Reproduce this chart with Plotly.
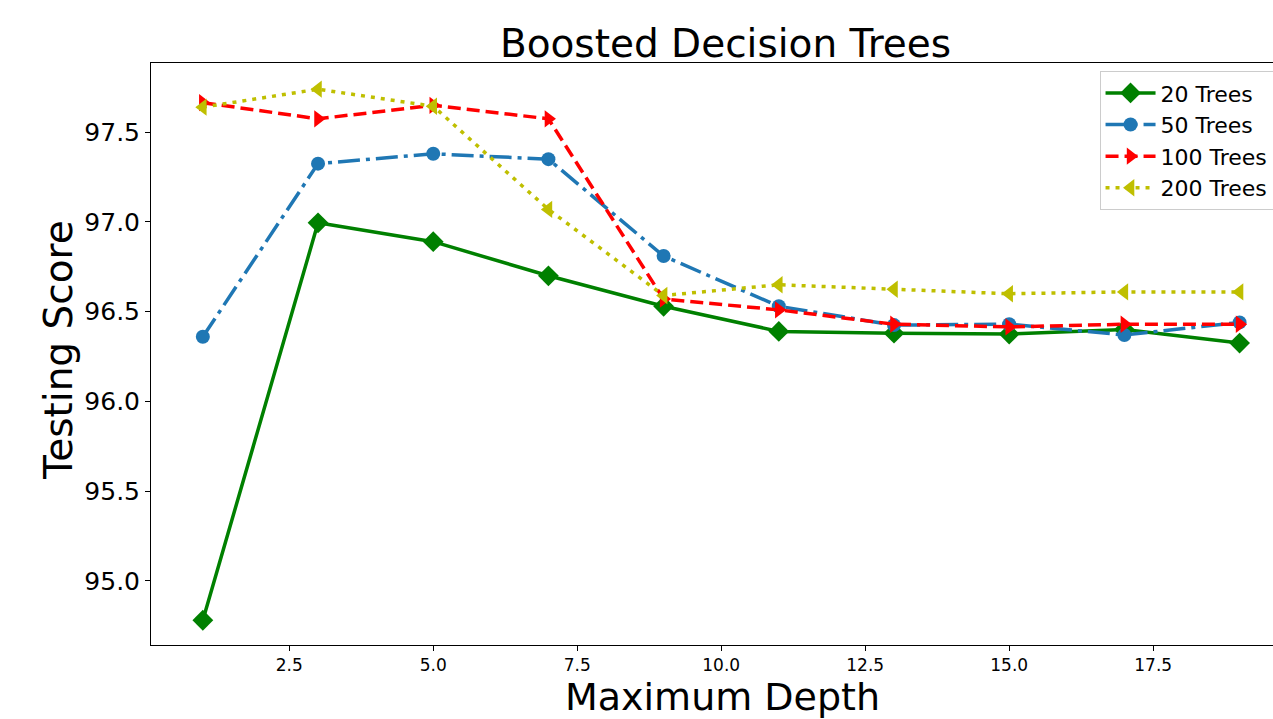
import plotly.graph_objects as go

depth = [1, 3, 5, 7, 9, 11, 13, 15, 17, 19]
trees20 = [94.78, 96.995, 96.89, 96.70, 96.53, 96.39, 96.38, 96.375, 96.40, 96.325]
trees50 = [96.36, 97.325, 97.38, 97.35, 96.81, 96.53, 96.425, 96.43, 96.37, 96.44]
trees100 = [97.665, 97.575, 97.65, 97.575, 96.57, 96.51, 96.43, 96.415, 96.43, 96.43]
trees200 = [97.64, 97.74, 97.645, 97.07, 96.59, 96.65, 96.625, 96.60, 96.61, 96.61]

series = [
    ("20 Trees", trees20, "#008000", "solid", "diamond", 16),
    ("50 Trees", trees50, "#1f77b4", "22px,6px,4px,6px", "circle", 14),
    ("100 Trees", trees100, "#ff0000", "13px,6px", "triangle-right", 15),
    ("200 Trees", trees200, "#bfbf00", "4px,6px", "triangle-left", 15),
]

fig = go.Figure()
for name, vals, color, dash, sym, size in series:
    fig.add_trace(go.Scatter(
        x=depth, y=vals, name=name, mode="lines+markers",
        line=dict(color=color, width=3.5, dash=dash),
        marker=dict(symbol=sym, size=size, color=color, line=dict(width=0)),
    ))

font = "DejaVu Sans, sans-serif"
fig.update_layout(
    width=1273, height=719,
    margin=dict(l=151, r=0, t=63, b=74, autoexpand=False),
    paper_bgcolor="white", plot_bgcolor="white",
    font=dict(family=font, color="black"),
    title=dict(text="Boosted Decision Trees", x=(725.5 - 151) / 1122, xanchor="center",
               xref="paper", y=1 - 43 / 719, yanchor="middle",
               font=dict(size=39, family=font, color="black")),
    legend=dict(x=0.8454, y=0.986, xanchor="left", yanchor="top",
                bgcolor="rgba(255,255,255,0.8)", bordercolor="#cccccc",
                borderwidth=1, font=dict(size=22, family=font),
                itemwidth=50, tracegroupgap=0),
    showlegend=True,
)
fig.add_annotation(
    text="Testing Score", xref="paper", yref="paper",
    x=(58 - 151) / 1122, y=(645 - 350) / 582, xanchor="center", yanchor="middle",
    textangle=-90, showarrow=False, font=dict(size=39, family=font, color="black"),
)
fig.add_annotation(
    text="Maximum Depth", xref="paper", yref="paper",
    x=(722 - 151) / 1122, y=(645 - 697) / 582, xanchor="center", yanchor="middle",
    showarrow=False, font=dict(size=38, family=font, color="black"),
)
fig.update_xaxes(
    range=[0.1, 19.58], tickvals=[2.5, 5, 7.5, 10, 12.5, 15, 17.5],
    ticktext=["2.5", "5.0", "7.5", "10.0", "12.5", "15.0", "17.5"],
    showgrid=False, zeroline=False, showline=True, linecolor="black",
    linewidth=1, mirror=True, ticks="outside", ticklen=5, tickcolor="black",
    tickfont=dict(size=17, family=font),
)
fig.update_yaxes(
    range=[94.642, 97.886], tickvals=[95.0, 95.5, 96.0, 96.5, 97.0, 97.5],
    ticktext=["95.0", "95.5", "96.0", "96.5", "97.0", "97.5"],
    showgrid=False, zeroline=False, showline=True, linecolor="black",
    linewidth=1, mirror=False, ticks="outside", ticklen=5, tickcolor="black",
    tickfont=dict(size=25, family=font),
)
fig.write_html("out.html")
